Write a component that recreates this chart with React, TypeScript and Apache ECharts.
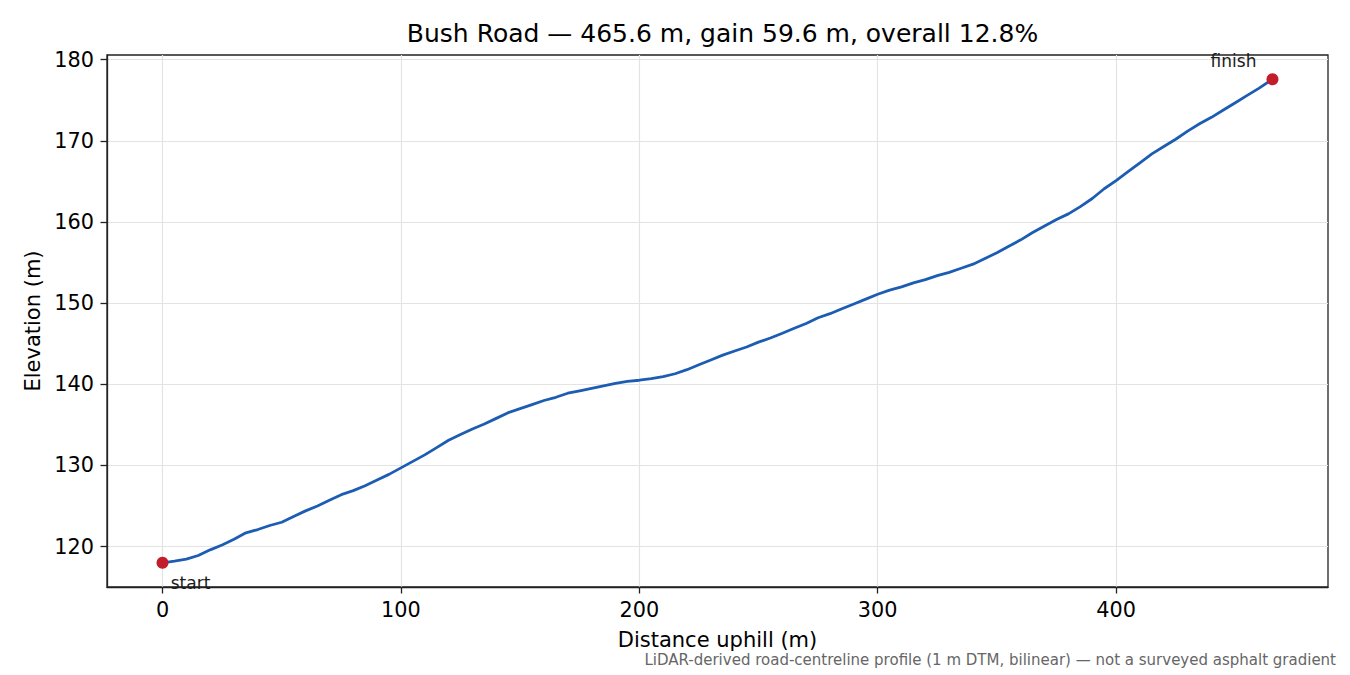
import { useEffect, useRef } from 'react';
import * as echarts from 'echarts';

// distance along the road (m) and LiDAR elevation (m)
const distances = [
  0, 5, 10, 15, 20, 25, 30, 35, 40, 45, 50, 55, 60, 65, 70, 75, 80, 85, 90, 95,
  100, 105, 110, 115, 120, 125, 130, 135, 140, 145, 150, 155, 160, 165, 170, 175, 180, 185, 190, 195,
  200, 205, 210, 215, 220, 225, 230, 235, 240, 245, 250, 255, 260, 265, 270, 275, 280, 285, 290, 295,
  300, 305, 310, 315, 320, 325, 330, 335, 340, 345, 350, 355, 360, 365, 370, 375, 380, 385, 390, 395,
  400, 405, 410, 415, 420, 425, 430, 435, 440, 445, 450, 455, 460, 465.6,
];
const elevations = [
  118.0, 118.2, 118.45, 118.9, 119.6, 120.2, 120.9, 121.7, 122.1, 122.6, 123.0, 123.7, 124.4, 125.0, 125.7, 126.4, 126.9, 127.5, 128.2, 128.9,
  129.7, 130.5, 131.3, 132.2, 133.1, 133.8, 134.5, 135.1, 135.8, 136.5, 137.0, 137.5, 138.0, 138.4, 138.9, 139.2, 139.5, 139.8, 140.1, 140.35,
  140.5, 140.7, 140.95, 141.3, 141.8, 142.4, 143.0, 143.6, 144.1, 144.6, 145.2, 145.7, 146.3, 146.9, 147.5, 148.2, 148.7, 149.3, 149.9, 150.5,
  151.1, 151.6, 152.0, 152.5, 152.9, 153.4, 153.8, 154.3, 154.8, 155.5, 156.2, 157.0, 157.8, 158.7, 159.5, 160.3, 161.0, 161.9, 162.9, 164.1,
  165.1, 166.2, 167.3, 168.4, 169.3, 170.2, 171.2, 172.1, 172.9, 173.8, 174.7, 175.6, 176.5, 177.6,
];
const endpointNames = ['start', 'finish'];
const xTicks = [0, 100, 200, 300, 400];
const yTicks = [120, 130, 140, 150, 160, 170, 180];

const FONT = 'DejaVu Sans';

export default function App() {
  const ref = useRef<HTMLDivElement>(null);

  useEffect(() => {
    if (!ref.current) return;
    const chart = echarts.init(ref.current, undefined, { renderer: 'svg' });

    const total = distances[distances.length - 1];
    const eMin = elevations[0];
    const eMax = elevations[elevations.length - 1];
    const xPad = total * 0.05;
    const yPad = (eMax - eMin) * 0.05;

    const profile = distances.map((d, i) => [d, elevations[i]]);
    const ends = [
      {
        value: [distances[0], eMin],
        label: { formatter: endpointNames[0], offset: [28, 20] },
      },
      {
        value: [total, eMax],
        label: { formatter: endpointNames[1], offset: [-39, -18] },
      },
    ];

    chart.setOption({
      animation: false,
      backgroundColor: '#ffffff',
      textStyle: { fontFamily: FONT },
      title: {
        text: 'Bush Road — 465.6 m, gain 59.6 m, overall 12.8%',
        left: 717.5,
        top: 16,
        textAlign: 'center',
        textStyle: { fontFamily: FONT, fontSize: 25, fontWeight: 'normal', color: '#000' },
      },
      grid: {
        left: 107,
        right: 22,
        top: 55,
        bottom: 88,
        show: true,
        borderColor: '#222',
        borderWidth: 1.3,
      },
      xAxis: {
        type: 'value',
        min: -xPad,
        max: total + xPad,
        name: 'Distance uphill (m)',
        nameLocation: 'middle',
        nameGap: 42,
        nameTextStyle: { fontFamily: FONT, fontSize: 21, color: '#000' },
        axisLine: { show: true, onZero: false, lineStyle: { color: '#222', width: 1.3 } },
        axisTick: { show: true, length: 6.5, customValues: xTicks, lineStyle: { color: '#222', width: 1.3 } },
        axisLabel: { customValues: xTicks, margin: 12, fontFamily: FONT, fontSize: 20.8, color: '#000' },
        splitLine: { show: true, lineStyle: { color: '#e3e3e3', width: 1.2 } },
      },
      yAxis: {
        type: 'value',
        min: eMin - yPad,
        max: eMax + yPad,
        name: 'Elevation (m)',
        nameLocation: 'middle',
        nameGap: 62,
        nameTextStyle: { fontFamily: FONT, fontSize: 21, color: '#000' },
        axisLine: { show: true, onZero: false, lineStyle: { color: '#222', width: 1.3 } },
        axisTick: { show: true, length: 6.5, customValues: yTicks, lineStyle: { color: '#222', width: 1.3 } },
        axisLabel: { customValues: yTicks, margin: 13, fontFamily: FONT, fontSize: 20.8, color: '#000' },
        splitLine: { show: true, lineStyle: { color: '#e3e3e3', width: 1.2 } },
      },
      graphic: [
        {
          type: 'text',
          x: 1336,
          y: 660,
          style: {
            text: 'LiDAR-derived road-centreline profile (1 m DTM, bilinear) — not a surveyed asphalt gradient',
            fontFamily: FONT,
            fontSize: 15,
            fill: '#666',
            textAlign: 'right',
            textVerticalAlign: 'middle',
          },
        },
      ],
      series: [
        {
          type: 'line',
          data: profile,
          showSymbol: false,
          lineStyle: { color: '#1c5db3', width: 2.8 },
          z: 2,
        },
        {
          type: 'scatter',
          data: ends,
          symbol: 'circle',
          symbolSize: 12,
          itemStyle: { color: '#c21d2a', opacity: 1 },
          label: {
            show: true,
            position: 'inside',
            fontFamily: FONT,
            fontSize: 17,
            color: '#1a1a1a',
          },
          z: 3,
        },
      ],
    });

    return () => chart.dispose();
  }, []);

  return (
    <div
      ref={ref}
      style={{ position: 'fixed', left: 0, top: 0, width: 1350, height: 675 }}
    />
  );
}
